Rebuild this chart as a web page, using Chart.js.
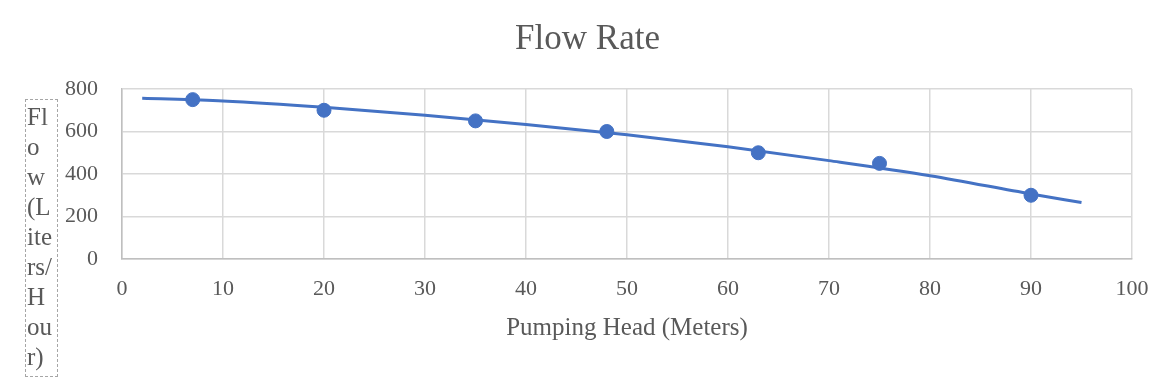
<!DOCTYPE html>
<html>
<head>
<meta charset="utf-8">
<script src="https://cdn.jsdelivr.net/npm/chart.js@4"></script>
<style>
  body { margin: 0; background: #fff; }
  #wrap { position: relative; width: 1175px; height: 381px; }
  #ytitle {
    position: absolute; left: 25px; top: 99px; width: 30px; height: 274px;
    border: 1px dashed #a6a6a6; font-family: "Liberation Serif", serif;
    font-size: 25px; line-height: 30px; color: #595959; padding-left: 1px;
    padding-top: 2px; box-sizing: content-box;
  }
</style>
</head>
<body>
<div id="wrap">
  <canvas id="chart" width="1175" height="381"></canvas>
  <div id="ytitle">Fl<br>o<br>w<br>(L<br>ite<br>rs/<br>H<br>ou<br>r)</div>
</div>
<script>
// measured points
const headMeters = [7, 20, 35, 48, 63, 75, 90];
const flowLph = [750, 700, 650, 600, 500, 450, 300];

// trend line
const trendX = [2, 10, 20, 30, 40, 50, 60, 70, 80, 90, 95];
const trendY = [757, 744, 714, 676, 633, 585, 528, 463, 392, 306, 266];

const blue = '#4472C4';
const grey = '#595959';
const serif = '"Liberation Serif", "Times New Roman", serif';

const points = headMeters.map((x, i) => ({ x: x, y: flowLph[i] }));
const trend = trendX.map((x, i) => ({ x: x, y: trendY[i] }));

new Chart('chart', {
  type: 'scatter',
  data: {
    datasets: [
      {
        label: 'Flow',
        data: points,
        backgroundColor: blue,
        borderColor: blue,
        pointRadius: 7,
        pointHoverRadius: 7,
        showLine: false,
      },
      {
        label: 'Trend',
        data: trend,
        borderColor: blue,
        borderWidth: 3,
        pointRadius: 0,
        showLine: true,
        cubicInterpolationMode: 'monotone',
      },
    ],
  },
  options: {
    responsive: false,
    animation: false,
    layout: { padding: 0 },
    plugins: {
      legend: { display: false },
      tooltip: { enabled: false },
      title: {
        display: true,
        text: 'Flow Rate',
        color: grey,
        font: { family: serif, size: 35, weight: 'normal' },
        padding: { top: 19, bottom: 28 },
      },
    },
    scales: {
      x: {
        type: 'linear',
        min: 0,
        max: 100,
        ticks: { stepSize: 10, color: grey, padding: 17, font: { family: serif, size: 22 } },
        grid: { color: '#d9d9d9', lineWidth: 1.5, drawTicks: false },
        border: { color: '#bfbfbf', width: 1.5 },
        title: {
          display: true,
          text: 'Pumping Head (Meters)',
          color: grey,
          font: { family: serif, size: 25 },
          padding: { top: 0, bottom: 38 },
        },
        afterFit: (s) => { s.height = 122; },
      },
      y: {
        min: 0,
        max: 800,
        ticks: { stepSize: 200, color: grey, padding: 24, font: { family: serif, size: 22 } },
        grid: { color: '#d9d9d9', lineWidth: 1.5, drawTicks: false },
        border: { color: '#bfbfbf', width: 1.5 },
        afterFit: (s) => { s.width = 122; },
      },
      // empty right-hand spacer so the title stays centred on the page
      spacer: {
        type: 'linear',
        position: 'right',
        ticks: { display: false },
        grid: { display: false },
        border: { display: false },
        afterFit: (s) => { s.width = 43; },
      },
    },
  },
});
</script>
</body>
</html>
